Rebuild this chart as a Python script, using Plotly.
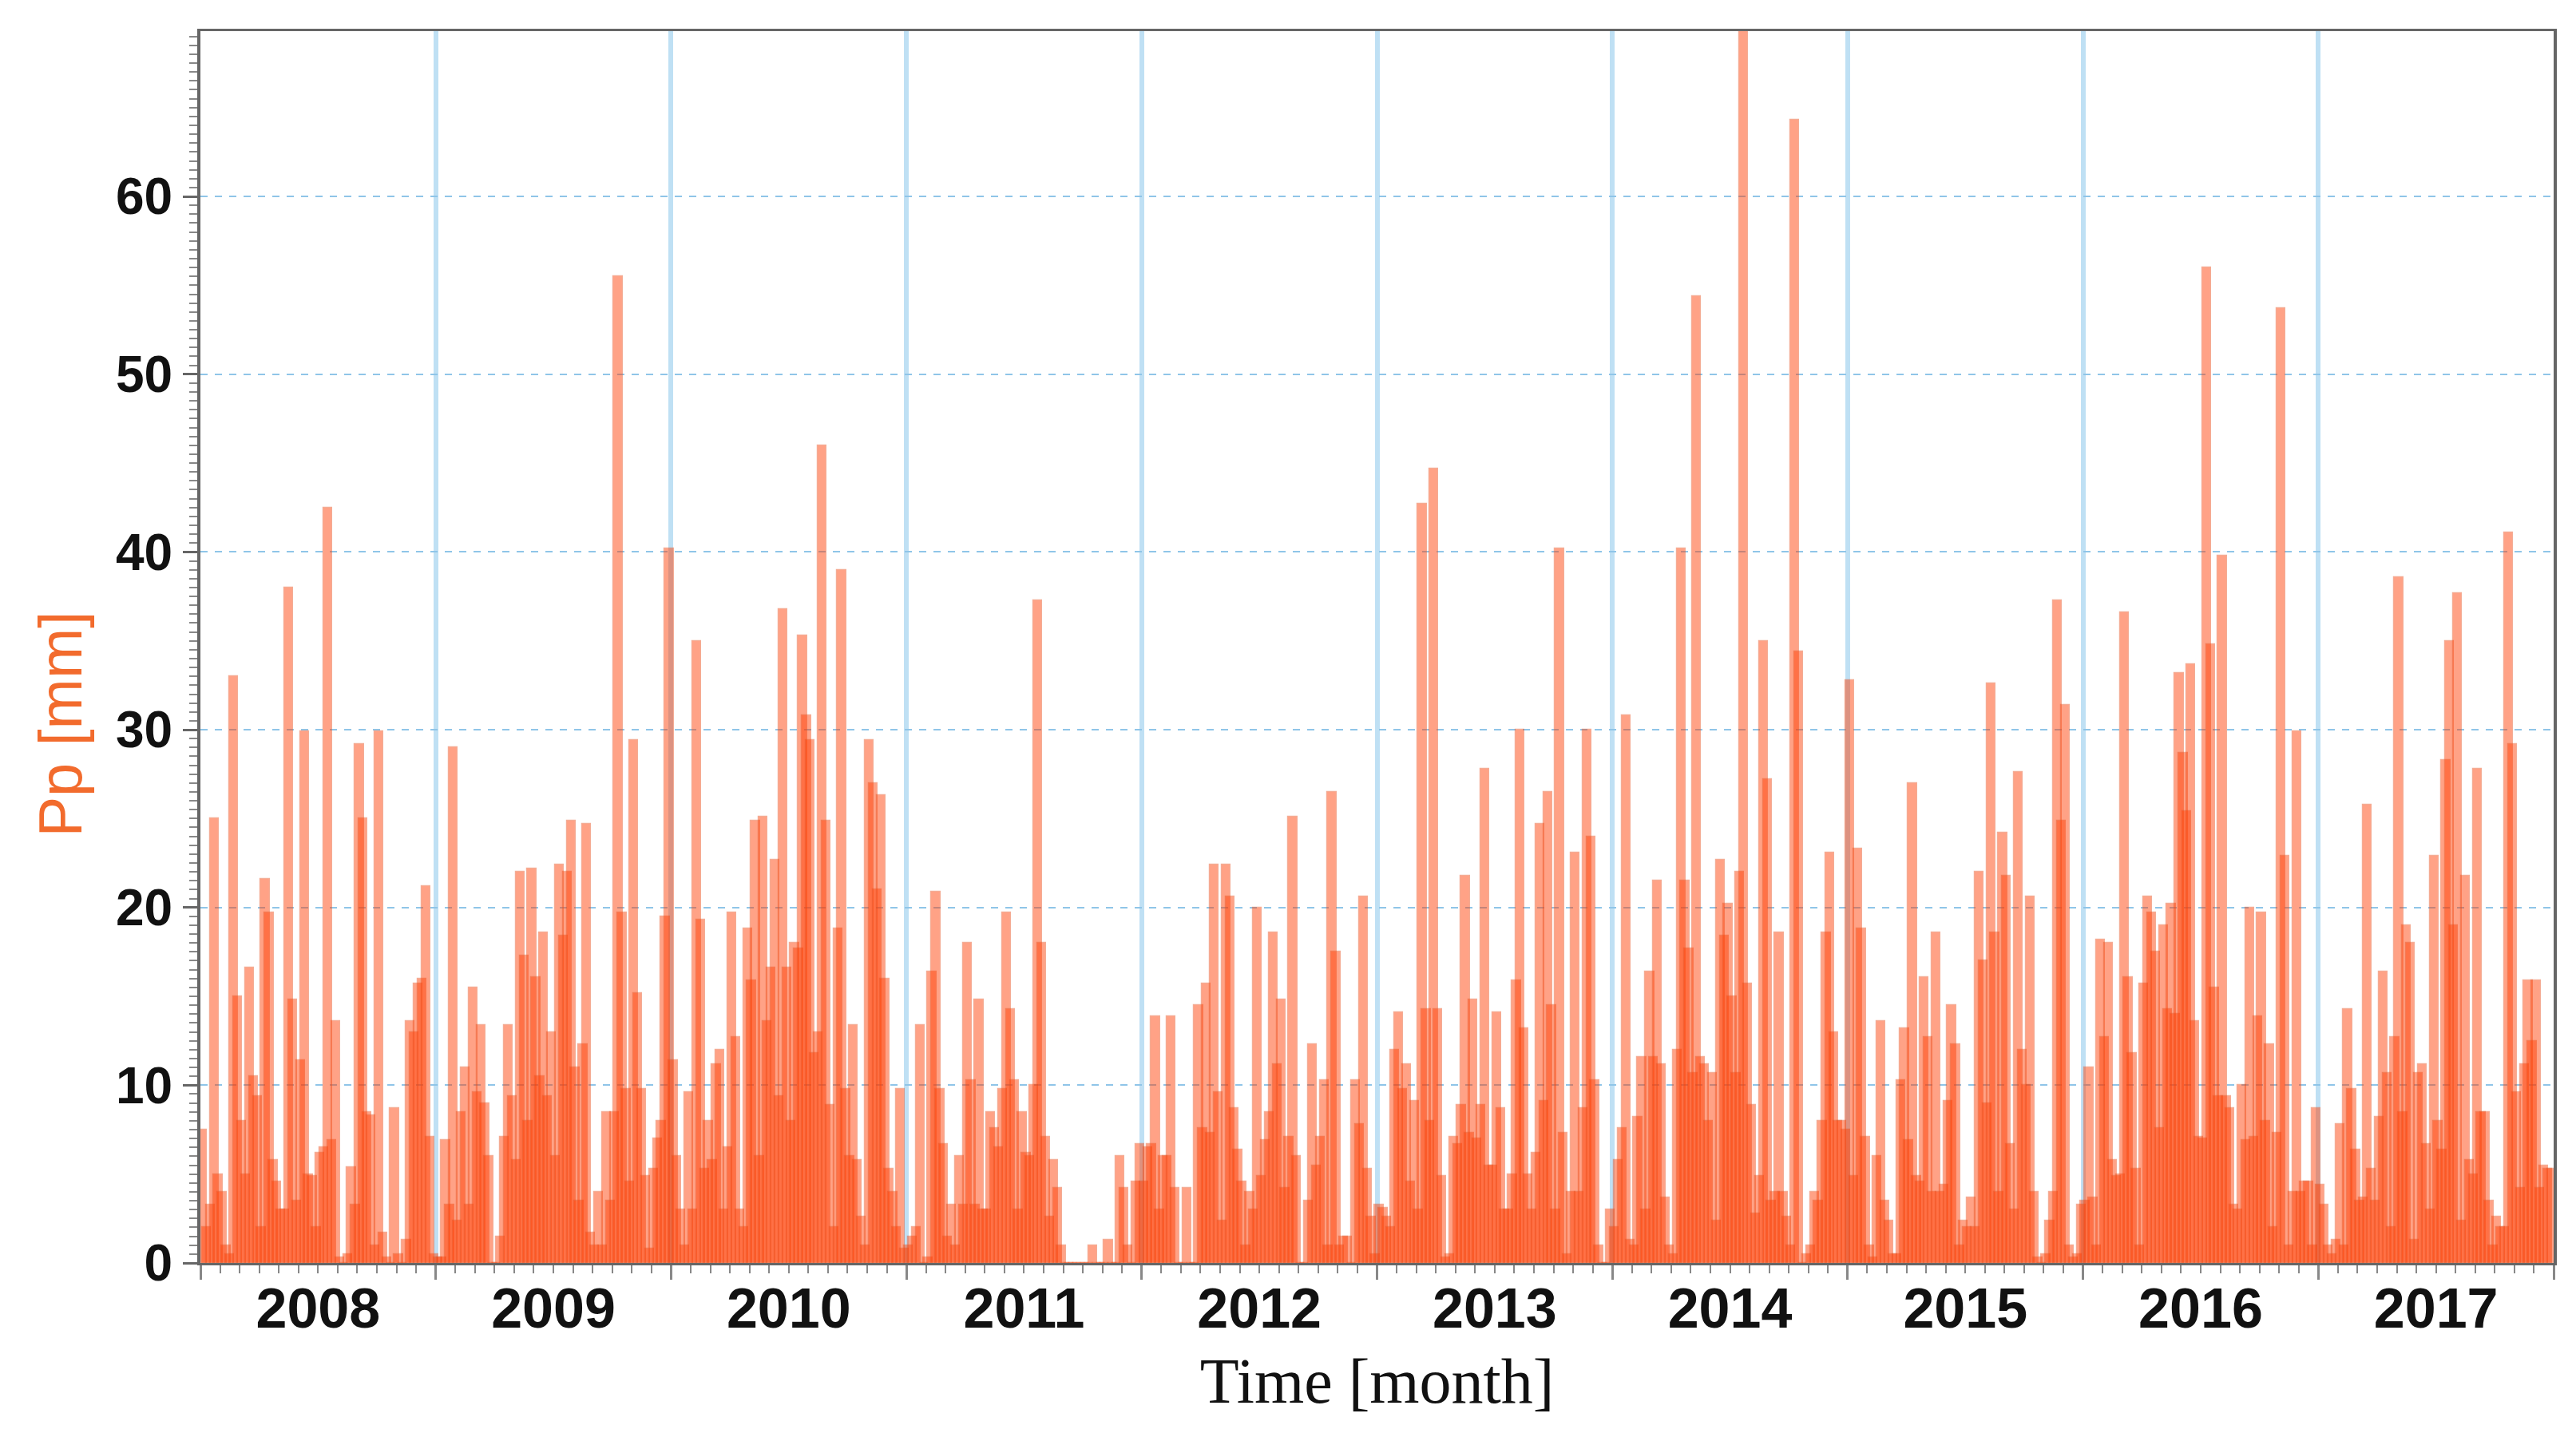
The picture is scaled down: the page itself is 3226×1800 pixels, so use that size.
import plotly.graph_objects as go

# daily rainfall, about one value per 6 days (60 per year)
years = [2008, 2009, 2010, 2011, 2012, 2013, 2014, 2015, 2016, 2017]
year_labels = ['2008', '2009', '2010', '2011', '2012', '2013', '2014', '2015', '2016', '2017']

pp_2008 = [7.5, 2, 3.3, 25, 5, 4, 1, 0.5, 33, 15,
           8, 5, 16.6, 10.5, 9.4, 2, 21.6, 19.7, 5.8, 4.6,
           3, 3, 38, 14.8, 3.5, 11.4, 29.9, 5, 4.9, 2,
           6.2, 6.5, 42.5, 6.9, 13.6, 0.3, 0, 0.5, 5.4, 3.3,
           29.2, 25, 8.5, 8.3, 1, 29.9, 1.7, 0.3, 0, 8.7,
           0.5, 0, 1.3, 13.6, 13, 15.7, 16, 21.2, 7.1, 0.5]
pp_2009 = [0.3, 0.3, 6.9, 3.3, 29, 2.4, 8.5, 11, 3.3, 15.5,
           9.6, 13.4, 9, 6, 0, 0, 1.5, 7.1, 13.4, 9.4,
           5.8, 22, 17.3, 8, 22.2, 16.1, 10.5, 18.6, 9.4, 13,
           6, 22.4, 18.4, 22, 24.9, 11, 3.5, 12.3, 24.7, 1.7,
           1, 4, 1, 8.5, 3.5, 8.5, 55.5, 19.7, 9.8, 4.6,
           29.4, 15.2, 9.8, 4.9, 0.8, 5.3, 7, 8, 19.5, 40.2]
pp_2010 = [11.4, 6, 3, 1, 9.6, 3, 35, 19.3, 5.3, 8,
           5.8, 11.2, 12, 3, 6.5, 19.7, 12.7, 3, 2, 18.8,
           15.9, 24.9, 6, 25.1, 13.6, 16.6, 22.7, 9.4, 36.8, 16.6,
           8, 18, 17.7, 35.3, 30.8, 29.4, 11.8, 13, 46, 24.9,
           8.9, 2, 18.8, 39, 9.8, 6, 13.4, 5.8, 2.6, 1,
           29.4, 27, 21, 26.3, 16, 5.3, 4, 2, 9.8, 0.8]
pp_2011 = [1, 1.5, 2, 13.4, 0, 0.3, 16.4, 20.9, 9.8, 6.7,
           1.5, 3.3, 1, 6, 3.3, 18, 10.3, 3.3, 14.8, 3,
           3, 8.5, 7.6, 6.5, 9.8, 19.7, 14.3, 10.3, 3, 8.5,
           6.2, 6, 10, 37.3, 18, 7.1, 2.6, 5.8, 4.2, 1,
           0, 0, 0, 0, 0, 0, 0, 1, 0, 0,
           0, 1.3, 0, 0, 6, 4.2, 1, 0, 4.6, 6.7]
pp_2012 = [4.6, 6.5, 6.7, 13.9, 3, 6, 6, 13.9, 4.2, 0,
           0, 4.2, 0, 0, 14.5, 7.6, 15.7, 7.3, 22.4, 9.6,
           2.4, 22.4, 20.6, 8.7, 6.4, 4.6, 1, 4, 3, 20,
           4.9, 6.9, 8.5, 18.6, 11.2, 14.8, 4.2, 7.1, 25.1, 6,
           0, 0, 3.5, 12.3, 5.5, 7.1, 10.3, 1, 26.5, 17.5,
           1, 1.5, 1.5, 0, 10.3, 7.8, 20.6, 5.3, 2.6, 0.5]
pp_2013 = [3.3, 3.1, 2.6, 2, 12, 14.1, 9.8, 11.2, 4.6, 9.1,
           3, 42.7, 14.3, 8, 44.7, 14.3, 4.9, 0.3, 0.5, 7.1,
           6.7, 8.9, 21.8, 7.3, 14.8, 7, 8.9, 27.8, 5.5, 5.5,
           14.1, 8.7, 3, 3, 5, 15.9, 30, 13.2, 5, 3,
           6.2, 24.7, 9.1, 26.5, 14.5, 3, 40.2, 7.3, 0.5, 4,
           23.1, 4, 8.7, 30, 24, 10.3, 1, 0, 0, 3]
pp_2014 = [2, 5.8, 7.6, 30.8, 1.3, 1, 8.2, 11.6, 3, 16.4,
           11.6, 21.5, 11.2, 3.7, 1, 0.5, 12, 40.2, 21.5, 17.7,
           10.7, 54.4, 11.6, 11.2, 8, 10.7, 2.4, 22.7, 18.4, 20.2,
           15, 10.7, 22, 70, 15.7, 8.9, 2.8, 4.9, 35, 27.2,
           3.5, 4, 18.6, 4, 2.6, 1, 64.3, 34.4, 0, 0.5,
           1, 4, 3.5, 8, 18.6, 23.1, 13, 8, 8, 7.5]
pp_2015 = [32.8, 4.9, 23.3, 18.8, 7.1, 1, 0.3, 6, 13.6, 3.5,
           2.4, 0.5, 0.5, 10.3, 13.2, 6.9, 27, 4.9, 4.6, 16.1,
           12.7, 4, 18.6, 4, 4.4, 9.1, 14.5, 12.3, 1, 2.4,
           2, 3.7, 2, 22, 17, 9, 32.6, 18.6, 4, 24.2,
           21.8, 6.7, 3, 27.6, 12, 10, 20.6, 4, 0.3, 0,
           0.5, 2.4, 4, 37.3, 24.9, 31.4, 1, 0.3, 0.5, 3.3]
pp_2016 = [3.5, 11, 3.7, 1, 18.2, 12.7, 18, 5.8, 4.9, 5,
           36.6, 16.1, 11.8, 5.3, 1, 15.7, 20.6, 19.7, 17.5, 7.6,
           19, 14.3, 20.2, 14, 33.2, 28.7, 25.4, 33.7, 13.6, 7.1,
           7, 56, 34.8, 15.5, 9.4, 39.8, 9.4, 8.7, 3.3, 3,
           10, 6.9, 20, 7.1, 13.9, 19.7, 8, 12.3, 2, 7.3,
           53.7, 22.9, 1, 4, 29.9, 4, 4.6, 4.6, 1, 8.7]
pp_2017 = [4.4, 3.3, 1, 0.5, 1.3, 7.8, 1, 14.3, 9.8, 6.4,
           3.5, 3.7, 25.8, 5.3, 3.5, 8.2, 16.4, 10.7, 2, 12.7,
           38.6, 8.5, 19, 18, 1.3, 10.7, 11.2, 6.7, 3, 22.9,
           8, 6.4, 28.3, 35, 19, 37.7, 2.4, 21.8, 5.8, 5,
           27.8, 8.5, 8.5, 3.5, 1, 2.6, 2, 2, 41.1, 29.2,
           9.6, 4.2, 11.2, 15.9, 12.5, 15.9, 4.2, 5.5, 5.3, 5.3]

series = [pp_2008, pp_2009, pp_2010, pp_2011, pp_2012,
          pp_2013, pp_2014, pp_2015, pp_2016, pp_2017]

y_ticks = [0, 10, 20, 30, 40, 50, 60]

# time as decimal years, each value at the middle of its slot
x_vals = []
y_vals = []
for yr, vals in zip(years, series):
    n = len(vals)
    for i, v in enumerate(vals):
        x_vals.append(yr + (i + 0.5) / n)
        y_vals.append(v)

# monthly ticks (year labels sit on 1 July), january left to the minor ticks
month_ticks = []
month_text = []
for k, yr in enumerate(years):
    for m in range(1, 12):
        month_ticks.append(yr + m / 12)
        month_text.append(year_labels[k] if m == 6 else '')
year_edges = years + [years[-1] + 1]

fig = go.Figure()
# wide, see-through bars: where neighbours overlap the colour gets deeper
fig.add_trace(go.Bar(x=x_vals,
                     y=y_vals,
                     width=14 / 365.25,
                     marker=dict(color='#FF3C00', opacity=0.47,
                                 line=dict(width=1.2, color='#E8501E')),
                     hoverinfo='skip'))

fig.add_annotation(text='Pp [mm]',
                   xref='paper', yref='paper',
                   x=-0.0595, y=0.4375,
                   xanchor='center', yanchor='middle',
                   textangle=-90,
                   showarrow=False,
                   font=dict(family='Liberation Sans', size=76, color='#F26B2D'))

fig.update_layout(width=3226,
                  height=1800,
                  margin=dict(l=243, r=36, t=31, b=226),
                  plot_bgcolor='white',
                  paper_bgcolor='white',
                  showlegend=False,
                  bargap=0,
                  xaxis=dict(range=[2008, 2018],
                             tickmode='array',
                             tickvals=month_ticks,
                             ticktext=month_text,
                             ticks='outside',
                             ticklen=10,
                             tickwidth=2,
                             tickcolor='#888888',
                             ticklabelstandoff=-16,
                             tickfont=dict(family='Liberation Sans', size=70,
                                           color='#111111', weight='bold'),
                             showgrid=False,
                             zeroline=False,
                             showline=True,
                             linecolor='#666666',
                             linewidth=3,
                             mirror=True,
                             minor=dict(tickmode='array',
                                        tickvals=year_edges,
                                        ticks='outside',
                                        ticklen=18,
                                        tickwidth=3,
                                        tickcolor='#888888',
                                        showgrid=True,
                                        gridcolor='#bfe0f4',
                                        gridwidth=6),
                             title=dict(text='Time [month]',
                                        font=dict(family='Liberation Serif', size=80,
                                                  color='#111111'),
                                        standoff=24)),
                  yaxis=dict(range=[0, 69.3],
                             tickmode='array',
                             tickvals=y_ticks,
                             ticks='outside',
                             ticklen=18,
                             tickwidth=3,
                             tickcolor='#666666',
                             tickfont=dict(family='Liberation Sans', size=64,
                                           color='#111111', weight='bold'),
                             showgrid=True,
                             gridcolor='#8fc5e8',
                             griddash='dash',
                             gridwidth=2,
                             zeroline=False,
                             showline=True,
                             linecolor='#666666',
                             linewidth=4,
                             mirror=True,
                             minor=dict(dtick=0.5,
                                        ticks='outside',
                                        ticklen=10,
                                        tickwidth=2,
                                        tickcolor='#888888',
                                        showgrid=False)))

fig.write_html("out.html")
